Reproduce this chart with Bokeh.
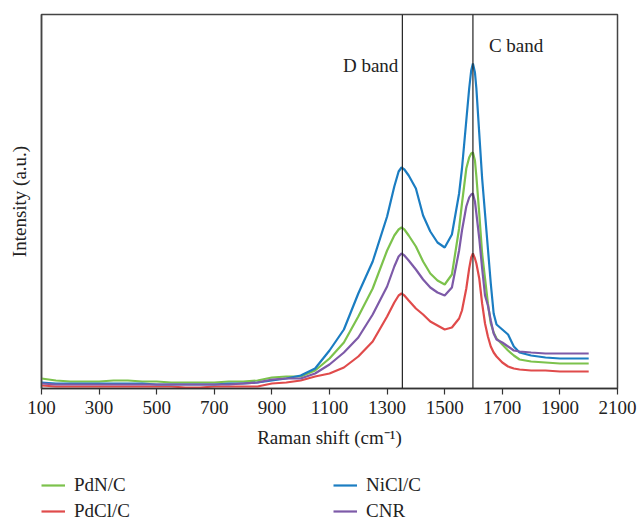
from bokeh.plotting import figure
from bokeh.layouts import column
from bokeh.models import Range1d, Span, Label, Legend, LegendItem, FixedTicker
from bokeh.embed import file_html
from bokeh.resources import INLINE

# Raman shift (cm^-1)
shift = [100, 150, 200, 250, 300, 350, 400, 450, 500, 550, 600, 650, 700, 750, 800, 850,
         900, 950, 1000, 1050, 1100, 1150, 1200, 1250, 1300, 1325, 1340, 1350, 1360, 1375,
         1400, 1425, 1450, 1475, 1500, 1525, 1550, 1560, 1575, 1585, 1592, 1598, 1605,
         1610, 1620, 1630, 1640, 1650, 1660, 1670, 1680, 1700, 1720, 1740, 1760, 1800,
         1850, 1900, 1950, 2000]

pdn_c = [10, 8, 7, 7, 7, 8, 8, 7, 7, 6, 6, 6, 6, 7, 7, 8,
         11, 12, 12, 18, 30, 46, 72, 100, 138, 153, 159, 161, 159, 153,
         142, 127, 115, 108, 104, 114, 160, 185, 220, 231, 235, 236, 228,
         212, 175, 135, 110, 85, 65, 56, 50, 44, 38, 33, 29, 27,
         26, 25, 25, 25]

pdcl_c = [3, 2, 2, 2, 2, 2, 2, 2, 2, 2, 1, 1, 2, 2, 2, 2,
          5, 6, 8, 12, 15, 21, 32, 47, 72, 86, 93, 95, 93, 88,
          80, 74, 67, 63, 59, 61, 70, 78, 100, 120, 131, 135, 130,
          125, 110, 85, 65, 52, 42, 36, 32, 26, 22, 20, 19, 18,
          18, 17, 17, 17]

nicl_c = [6, 5, 5, 5, 5, 5, 5, 5, 4, 4, 4, 4, 4, 5, 5, 6,
          8, 10, 13, 20, 38, 59, 95, 127, 172, 202, 217, 221, 219, 213,
          200, 173, 157, 146, 141, 154, 195, 220, 268, 300, 318, 325, 316,
          300, 255, 210, 175, 140, 105, 75, 64, 59, 54, 42, 36, 33,
          31, 30, 30, 30]

cnr = [5, 4, 4, 4, 4, 4, 4, 4, 4, 4, 4, 4, 4, 4, 5, 6,
       9, 10, 10, 15, 24, 36, 51, 74, 102, 122, 132, 135, 133, 128,
       119, 109, 101, 96, 93, 101, 138, 158, 182, 191, 194, 195, 187,
       175, 150, 120, 93, 83, 68, 55, 49, 46, 42, 38, 37, 36,
       35, 35, 35, 35]

series_names = ["PdN/C", "PdCl/C", "NiCl/C", "CNR"]
x_ticks = [100, 300, 500, 700, 900, 1100, 1300, 1500, 1700, 1900, 2100]
band_pos = [1353, 1598]
band_names = ["D band", "C band"]

FONT = "Liberation Serif"
FS = "19px"
GREEN = "#7cc24c"
RED = "#e04b4b"
BLUE = "#1b7dc2"
PURPLE = "#7d5aa8"

p = figure(width=638, height=452, frame_width=576, frame_height=374,
           output_backend="svg", toolbar_location=None,
           x_range=Range1d(100, 2100), y_range=Range1d(0, 374),
           min_border_left=41, min_border_right=21, min_border_top=14, min_border_bottom=0)

p.grid.visible = False
p.outline_line_color = "#444444"
p.outline_line_width = 1.5
p.background_fill_color = "white"
p.border_fill_color = "white"

p.line(shift, pdcl_c, line_color=RED, line_width=2.2)
p.line(shift, pdn_c, line_color=GREEN, line_width=2.2)
p.line(shift, nicl_c, line_color=BLUE, line_width=2.2)
p.line(shift, cnr, line_color=PURPLE, line_width=2.2)

for bx in band_pos:
    p.add_layout(Span(location=bx, dimension="height", line_color="#222222", line_width=1.2))

p.add_layout(Label(x=band_pos[0], y=323, text=band_names[0], text_align="right",
                   text_baseline="middle", x_offset=-4, text_font=FONT,
                   text_font_size=FS, text_color="#222222"))
p.add_layout(Label(x=band_pos[1], y=343, text=band_names[1], text_align="left",
                   text_baseline="middle", x_offset=16, text_font=FONT,
                   text_font_size=FS, text_color="#222222"))

xa = p.xaxis[0]
xa.ticker = FixedTicker(ticks=x_ticks)
xa.minor_tick_line_color = None
xa.major_tick_in = 0
xa.major_tick_out = 6
xa.axis_line_color = "#333333"
xa.axis_line_width = 1.5
xa.major_tick_line_color = "#333333"
xa.major_tick_line_width = 1.2
xa.major_label_text_font = FONT
xa.major_label_text_font_size = FS
xa.major_label_text_color = "#222222"
xa.major_label_standoff = 6
xa.axis_label = "Raman shift (cm\u207b\u00b9)"
xa.axis_label_text_font = FONT
xa.axis_label_text_font_size = FS
xa.axis_label_text_font_style = "normal"
xa.axis_label_text_color = "#222222"
xa.axis_label_standoff = 10

ya = p.yaxis[0]
ya.ticker = FixedTicker(ticks=[])
ya.minor_tick_line_color = None
ya.major_tick_line_color = None
ya.major_label_text_font_size = "0px"
ya.axis_line_color = "#444444"
ya.axis_line_width = 1.5
ya.axis_label = "Intensity (a.u.)"
ya.axis_label_text_font = FONT
ya.axis_label_text_font_size = FS
ya.axis_label_text_font_style = "normal"
ya.axis_label_text_color = "#222222"
ya.axis_label_standoff = 12

# legend panel below the chart (its lines carry the same data, outside its view)
q = figure(width=638, height=70, output_backend="svg", toolbar_location=None,
           x_axis_type=None, y_axis_type=None, x_range=Range1d(-10, -9), y_range=Range1d(-10, -9),
           min_border=0, outline_line_color=None)
q.grid.visible = False
q.background_fill_color = "white"
q.border_fill_color = "white"
lr = [q.line(shift, ys, line_color=c, line_width=2.2)
      for ys, c in ((pdn_c, GREEN), (pdcl_c, RED), (nicl_c, BLUE), (cnr, PURPLE))]

legend = Legend(items=[LegendItem(label=n, renderers=[r]) for n, r in zip(series_names, lr)],
                orientation="vertical", ncols=2, nrows=2)
legend.label_text_font = FONT
legend.label_text_font_size = FS
legend.label_text_color = "#222222"
legend.glyph_width = 24
legend.glyph_height = 18
legend.label_height = 18
legend.label_standoff = 9
legend.label_width = 255
legend.spacing = 4
legend.border_line_color = None
legend.background_fill_alpha = 0
legend.padding = 0
legend.margin = 0
legend.location = (0, -2)
q.add_layout(legend, "center")

open("out.html", "w").write(file_html(column(p, q), INLINE))
